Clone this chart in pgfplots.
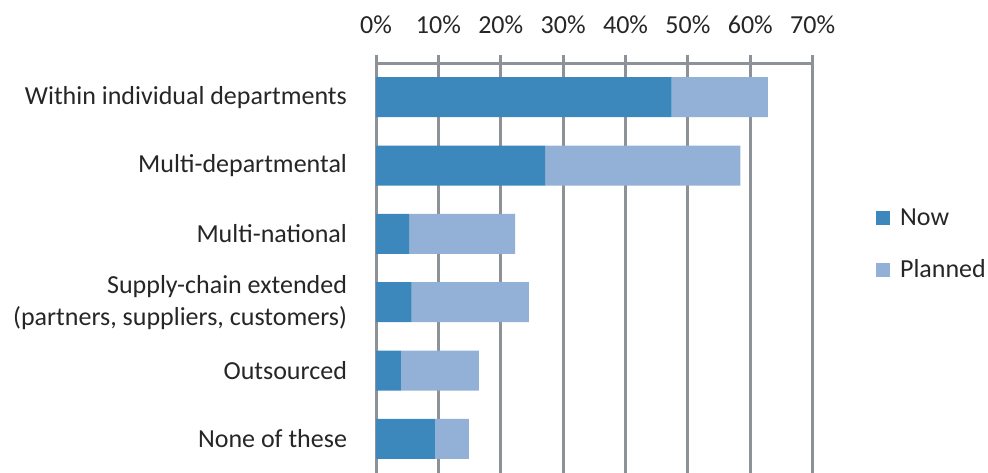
\documentclass[border=0pt]{standalone}
\usepackage{fontspec}
\setmainfont{Carlito}
\usepackage{pgfplots}
\pgfplotsset{compat=1.18}
\definecolor{nowc}{HTML}{3C88BD}
\definecolor{planc}{HTML}{93B1D7}
\definecolor{gridc}{HTML}{8C9298}
\definecolor{txt}{HTML}{262626}
\pgfplotsset{sqlegend/.style={legend image code/.code={\fill[##1] (0bp,-3.5bp) rectangle (7bp,3.5bp); \path (10bp,0bp);}}}
\newcommand\chartfont{\fontsize{13bp}{16bp}\selectfont}
\begin{document}
\begin{tikzpicture}
\useasboundingbox (0bp,0bp) rectangle (494bp,236.5bp);
\begin{axis}[
  at={(188bp,0bp)}, anchor=south west,
  scale only axis, width=218.35bp, height=205bp,
  xbar stacked, bar width=20bp,
  xmin=0, xmax=70, ymin=0.5, ymax=6.5, y dir=reverse,
  axis x line=top, axis y line=left,
  axis line style={-, gridc, line width=1.5bp},
  xtick={0,10,...,70},
  xticklabels={0\%,10\%,20\%,30\%,40\%,50\%,60\%,70\%},
  xmajorgrids, grid style={gridc, line width=1.5bp},
  xtick align=outside, major tick length=4bp,
  x tick style={gridc, line width=1.5bp},
  ytick={1,...,6},
  y tick style={draw=none},
  yticklabels={Within individual departments, Multi-departmental, Multi-national, {Supply-chain extended\\(partners, suppliers, customers)}, Outsourced, None of these},
  xticklabel style={text=txt, font=\chartfont, yshift=7bp},
  yticklabel style={text=txt, font=\chartfont, align=right, xshift=-9bp},
  legend style={draw=none, fill=none, at={(rel axis cs:1,0.558)}, anchor=west, xshift=31.5bp,
    row sep=11.5bp, font=\chartfont, text=txt, inner sep=0pt},
  legend cell align=left,
]
\addplot[fill=nowc, draw=none, sqlegend] coordinates {(47.4,1) (27.1,2) (5.3,3) (5.7,4) (4.0,5) (9.5,6)};
\addplot[fill=planc, draw=none, sqlegend] coordinates {(15.4,1) (31.3,2) (17.0,3) (18.8,4) (12.5,5) (5.4,6)};
\legend{Now, Planned}
\end{axis}
\end{tikzpicture}
\end{document}
